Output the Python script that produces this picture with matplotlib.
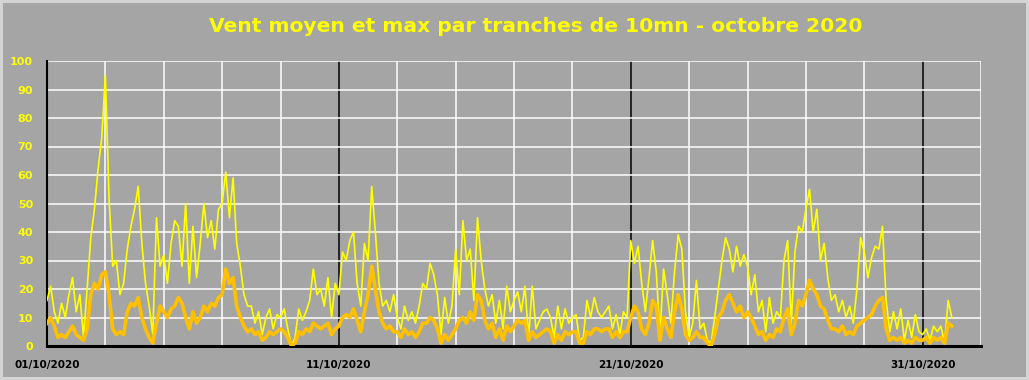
import numpy as np
import matplotlib
matplotlib.use("Agg")
import matplotlib.pyplot as plt
from matplotlib.ticker import MultipleLocator, FixedLocator

# Wind readings sampled every 3 hours (8 per day), 01/10/2020 -> 01/11/2020
vent_max = [
    16, 21, 12, 8, 15, 10, 18, 24,        # 01/10
    12, 18, 3, 20, 38, 48, 62, 73,        # 02/10
    95, 52, 28, 30, 18, 22, 34, 42,       # 03/10
    48, 56, 36, 22, 14, 4, 45, 28,        # 04/10
    32, 22, 36, 44, 42, 28, 50, 22,       # 05/10
    42, 24, 36, 50, 38, 44, 34, 48,       # 06/10
    50, 61, 45, 59, 36, 28, 18, 14,       # 07/10
    14, 8, 12, 4, 10, 13, 6, 11,          # 08/10
    10, 13, 6, 0, 3, 13, 9, 12,           # 09/10
    16, 27, 18, 20, 14, 24, 10, 22,       # 10/10
    18, 33, 30, 37, 40, 22, 14, 36,       # 11/10
    30, 56, 40, 22, 14, 16, 12, 18,       # 12/10
    10, 6, 14, 9, 12, 8, 14, 22,          # 13/10
    20, 29, 25, 18, 4, 17, 8, 14,         # 14/10
    34, 18, 44, 30, 34, 16, 45, 30,       # 15/10
    20, 14, 18, 8, 16, 6, 21, 12,         # 16/10
    16, 19, 12, 21, 3, 21, 6, 9,          # 17/10
    12, 13, 10, 3, 14, 6, 13, 8,          # 18/10
    10, 11, 2, 3, 16, 10, 17, 12,         # 19/10
    10, 12, 14, 6, 11, 4, 12, 10,         # 20/10
    37, 29, 35, 22, 12, 24, 37, 26,       # 21/10
    4, 27, 18, 8, 26, 39, 34, 12,         # 22/10
    3, 8, 23, 6, 8, 2, 1, 10,             # 23/10
    20, 30, 38, 34, 26, 35, 28, 32,       # 24/10
    28, 18, 25, 12, 16, 5, 17, 8,         # 25/10
    12, 10, 30, 37, 8, 33, 42, 40,        # 26/10
    48, 55, 40, 48, 30, 36, 24, 16,       # 27/10
    18, 12, 16, 10, 14, 8, 20, 38,        # 28/10
    33, 24, 31, 35, 34, 42, 16, 5,        # 29/10
    12, 6, 13, 2, 9, 3, 11, 5,            # 30/10
    4, 6, 2, 7, 5, 7, 1, 16,              # 31/10
    10,
]
vent_moyen = [
    8, 10, 7, 3, 4, 3, 5, 7,
    4, 3, 2, 6, 18, 22, 20, 25,
    26, 18, 6, 4, 5, 4, 12, 15,
    14, 17, 10, 6, 3, 1, 8, 14,
    12, 10, 13, 14, 17, 15, 10, 6,
    12, 8, 10, 14, 12, 15, 14, 17,
    18, 27, 22, 24, 14, 10, 7, 5,
    6, 4, 5, 2, 3, 5, 4, 5,
    6, 5, 3, 0, 1, 5, 4, 6,
    5, 8, 7, 6, 7, 8, 4, 6,
    7, 10, 11, 10, 13, 9, 5, 12,
    18, 28, 20, 12, 8, 6, 7, 5,
    5, 3, 6, 4, 5, 3, 5, 8,
    8, 10, 9, 6, 1, 4, 2, 4,
    6, 9, 10, 8, 12, 9, 18, 16,
    9, 6, 8, 3, 6, 2, 7, 5,
    7, 9, 8, 9, 2, 5, 3, 4,
    5, 6, 5, 1, 4, 2, 5, 4,
    5, 5, 1, 1, 5, 4, 6, 6,
    5, 6, 6, 3, 5, 3, 5, 5,
    10, 14, 12, 6, 4, 8, 16, 14,
    2, 10, 6, 3, 12, 18, 13, 4,
    2, 3, 5, 3, 3, 1, 0, 4,
    10, 12, 16, 18, 15, 12, 14, 10,
    12, 10, 7, 4, 5, 2, 4, 3,
    6, 5, 10, 13, 4, 8, 16, 14,
    18, 23, 20, 18, 14, 13, 9, 6,
    6, 5, 7, 4, 5, 4, 7, 8,
    9, 10, 11, 14, 16, 17, 6, 2,
    3, 2, 3, 1, 2, 1, 3, 2,
    2, 3, 1, 3, 2, 3, 1, 8,
    7,
]
step_days = 3 / 24
tick_days = [0, 10, 20, 30]
tick_labels = ["01/10/2020", "11/10/2020", "21/10/2020", "31/10/2020"]
title = "Vent moyen et max par tranches de 10mn - octobre 2020"

t = np.arange(len(vent_max)) * step_days

bg = "#A5A5A5"
fig = plt.figure(figsize=(10.29, 3.80), dpi=100, facecolor=bg)
fig.patch.set_edgecolor("#D4D4D4")
fig.patch.set_linewidth(3)
ax = fig.add_axes([47 / 1029, (380 - 346) / 380, (981 - 47) / 1029, (346 - 61) / 380])
ax.set_facecolor(bg)

ax.plot(t, vent_max, color="#FFFF00", lw=1.2, zorder=3)
ax.plot(t, vent_moyen, color="#FFC000", lw=2.6, zorder=4)

ax.set_xlim(0, 32)
ax.set_ylim(0, 100)
ax.yaxis.set_major_locator(MultipleLocator(10))
ax.xaxis.set_major_locator(FixedLocator(tick_days))
ax.xaxis.set_minor_locator(MultipleLocator(2))
ax.set_xticks(tick_days)
ax.set_xticklabels(tick_labels)

ax.grid(axis="y", which="major", color="white", lw=1.1, zorder=1)
ax.grid(axis="x", which="minor", color="white", lw=1.1, zorder=1)
ax.grid(axis="x", which="major", color="black", lw=1.1, zorder=2)
ax.set_axisbelow(True)

ax.tick_params(axis="both", which="both", length=0)
ax.tick_params(axis="x", pad=10, labelsize=7.5, labelcolor="black")
ax.tick_params(axis="y", pad=10, labelsize=8, labelcolor="#FFFF00")
for lab in ax.get_xticklabels() + ax.get_yticklabels():
    lab.set_fontweight("bold")

for s in ["top", "right"]:
    ax.spines[s].set_visible(False)
ax.spines["left"].set_color("black")
ax.spines["left"].set_linewidth(1.5)
ax.spines["bottom"].set_color("black")
ax.spines["bottom"].set_linewidth(2.2)

fig.text(536 / 1029, 0.93, title, ha="center", va="center", color="#FFFF00",
         fontsize=14.6, fontweight="bold")

fig.savefig("out.png", dpi=100, facecolor=bg, edgecolor=fig.patch.get_edgecolor())
